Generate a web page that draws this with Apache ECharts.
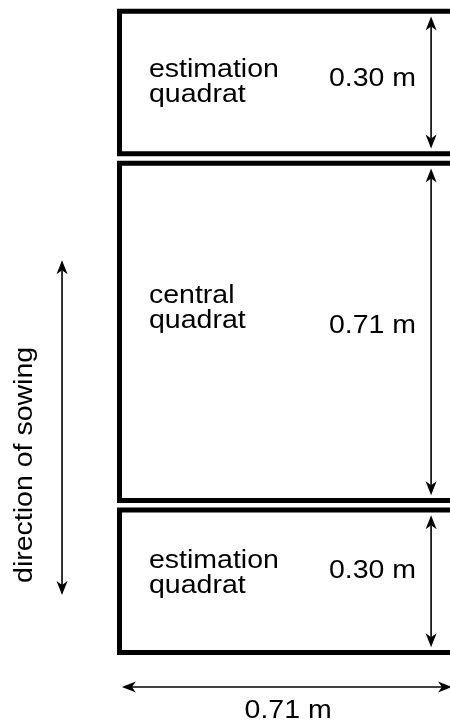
<!DOCTYPE html>
<html>
<head>
<meta charset="utf-8">
<script src="https://cdn.jsdelivr.net/npm/echarts@6/dist/echarts.min.js"></script>
<style>
  html, body { margin: 0; padding: 0; background: #fff; }
  #chart { width: 450px; height: 722px; }
</style>
</head>
<body>
<div id="chart"></div>
<script>
// quadrats from top to bottom, sizes in metres
const quadratNames = ['estimation\nquadrat', 'central\nquadrat', 'estimation\nquadrat'];
const quadratHeights = [0.30, 0.71, 0.30];
const heightLabels = ['0.30 m', '0.71 m', '0.30 m'];
const quadratWidth = 0.71;
const widthLabel = '0.71 m';
const sowingLabel = 'direction of sowing';

// layout (metres unless said otherwise)
const GAP = 0.02;            // white strip between quadrats
const ARROW_X = 0.656;       // vertical dimension arrows
const ARROW_INSET = 0.011;
const WIDTH_ARROW_Y = -0.0726;
const SOWING = { x: -0.121, y0: 0.121, y1: 0.826, textY: 0.395 };
const NAME_DY = [0, -23, -8];   // px shift of the quadrat names
const DIM_DY = [-3, -6, -10];   // px shift of the height labels
const FONT = { fontFamily: '"Liberation Sans", Arial, sans-serif', fontSize: 25 };
const STRETCH = 1.14;           // the scanned lettering is a bit wide

// stack the quadrats from the bottom up
let rects = [];
let y = 0;
for (let i = quadratHeights.length - 1; i >= 0; i--) {
    rects[i] = [0, y, quadratWidth, y + quadratHeights[i]];
    y += quadratHeights[i] + GAP;
}
let heightArrows = rects.map(r => [ARROW_X, r[1] + ARROW_INSET, ARROW_X, r[3] - ARROW_INSET]);
let otherArrows = [
    [0.005, WIDTH_ARROW_Y, quadratWidth - 0.01, WIDTH_ARROW_Y],
    [SOWING.x, SOWING.y0, SOWING.x, SOWING.y1]
];

// arrow head pointing along angle a with its tip at p
function head(p, a) {
    let pts = [[0, 0], [-14, -5.5], [-10, 0], [-14, 5.5]];
    return pts.map(q => [p[0] + q[0] * Math.cos(a) - q[1] * Math.sin(a),
                         p[1] + q[0] * Math.sin(a) + q[1] * Math.cos(a)]);
}

function renderRect(params, api) {
    let a = api.coord([api.value(0), api.value(3)]);
    let b = api.coord([api.value(2), api.value(1)]);
    return {
        type: 'rect',
        shape: { x: a[0], y: a[1], width: b[0] - a[0], height: b[1] - a[1] },
        style: { fill: 'none', stroke: '#000', lineWidth: 5 }
    };
}

function renderArrow(params, api) {
    let p0 = api.coord([api.value(0), api.value(1)]);
    let p1 = api.coord([api.value(2), api.value(3)]);
    let ang = Math.atan2(p1[1] - p0[1], p1[0] - p0[0]);
    let c = Math.cos(ang), s = Math.sin(ang);
    return {
        type: 'group',
        children: [
            { type: 'line', shape: { x1: p0[0] + 10 * c, y1: p0[1] + 10 * s, x2: p1[0] - 10 * c, y2: p1[1] - 10 * s },
              style: { stroke: '#000', lineWidth: 1.6 } },
            { type: 'polygon', shape: { points: head(p1, ang) }, style: { fill: '#000' } },
            { type: 'polygon', shape: { points: head(p0, ang + Math.PI) }, style: { fill: '#000' } }
        ]
    };
}

function textEl(p, text, align, extra) {
    return Object.assign({
        type: 'text', x: p[0], y: p[1], scaleX: STRETCH,
        style: Object.assign({ text: text, fill: '#000', align: align, verticalAlign: 'middle', lineHeight: 25 }, FONT)
    }, extra || {});
}

// quadrat names, anchored at the left edge / middle of each quadrat
function renderName(params, api) {
    let i = params.dataIndex;
    let p = api.coord([api.value(0), api.value(1)]);
    return textEl([p[0] + 29.5, p[1] + NAME_DY[i]], quadratNames[i], 'left');
}

function renderHeightLabel(params, api) {
    let i = params.dataIndex;
    let p = api.coord([api.value(0), api.value(1)]);
    return textEl([p[0] - 15, p[1] + DIM_DY[i]], heightLabels[i], 'right');
}

function renderOtherLabel(params, api) {
    let p = api.coord([api.value(0), api.value(1)]);
    if (params.dataIndex == 0) {
        return textEl([p[0], p[1] + 24], widthLabel, 'center');
    }
    return textEl([p[0] - 37, p[1]], sowingLabel, 'center', { rotation: Math.PI / 2 });
}

let option = {
    backgroundColor: '#fff',
    animation: false,
    grid: { left: 0, right: 0, top: 0, bottom: 0 },
    xAxis: { type: 'value', min: -0.2516, max: 0.6958, show: false },
    yAxis: { type: 'value', min: -0.1463, max: 1.3737, show: false },
    series: [
        { type: 'custom', silent: true, renderItem: renderRect, data: rects },
        { type: 'custom', silent: true, renderItem: renderArrow, data: heightArrows.concat(otherArrows) },
        { type: 'custom', silent: true, renderItem: renderName,
          data: rects.map(r => [r[0], (r[1] + r[3]) / 2]) },
        { type: 'custom', silent: true, renderItem: renderHeightLabel,
          data: rects.map(r => [ARROW_X, (r[1] + r[3]) / 2]) },
        { type: 'custom', silent: true, renderItem: renderOtherLabel,
          data: [[quadratWidth / 2, WIDTH_ARROW_Y], [SOWING.x, SOWING.textY]] }
    ]
};

let chart = echarts.init(document.getElementById('chart'), null, { renderer: 'canvas' });
chart.setOption(option);
</script>
</body>
</html>
